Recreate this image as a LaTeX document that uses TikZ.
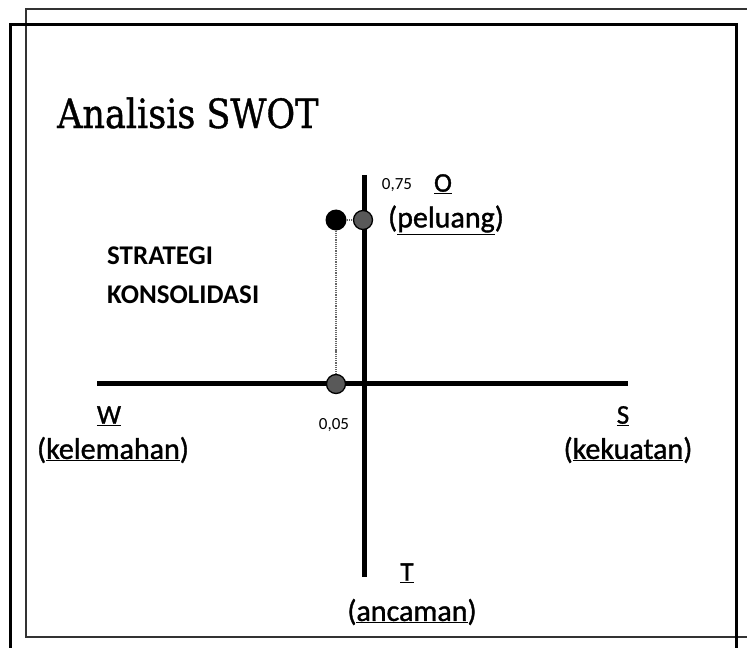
\documentclass[tikz,border=0pt]{standalone}
\usepackage{fontspec}
\setmainfont{Carlito}
\newfontfamily\heavy{Carlito}[BoldFont={Carlito}, BoldFeatures={FakeBold=1.2}]
\newfontfamily\titlefont{DejaVu Serif}[BoldFont={DejaVu Serif}, BoldFeatures={FakeBold=1.0}]
\tikzset{
  axisline/.style={line width=5bp, black},
  frameline/.style={line width=3bp, black},
  thinframe/.style={line width=1.3bp, black!80},
  guide/.style={line width=1.2bp, black!60, densely dotted},
  blackdot/.style={circle, fill=black, inner sep=0pt, minimum size=21bp},
  hatchdot/.style={circle, fill=black!65, draw=black, line width=1.3bp, inner sep=0pt, minimum size=19bp},
  lbl/.style={inner sep=0pt, font=\heavy\bfseries\fontsize{30bp}{34bp}\selectfont},
  letter/.style={inner sep=0pt, font=\heavy\bfseries\fontsize{27bp}{30bp}\selectfont},
  num/.style={inner sep=0pt, font=\heavy\fontsize{17bp}{20bp}\selectfont},
}
\begin{document}
\begin{tikzpicture}[x=1bp, y=-1bp]
\useasboundingbox (0,0) rectangle (747,648);
% frames
\draw[thinframe] (760,9) -- (26,9) -- (26,637) -- (760,637);
\draw[frameline] (10,660) -- (10,25) -- (736,25) -- (736,660);
% title
\node[inner sep=0pt, anchor=west, font=\titlefont\bfseries\fontsize{35bp}{40bp}\selectfont] (title) at (57,113) {\scalebox{1}[1.15]{Analisis SWOT}};
% axes
\coordinate (vtop) at (364,175);
\coordinate (vbot) at (364,577);
\coordinate (hl) at (97,383);
\coordinate (hr) at (628,383);
\draw[axisline] (vtop) -- (vbot);
\draw[axisline] (hl) -- (hr);
% points
\node[blackdot] (p) at (336,220) {};
\node[hatchdot] (po) at (363,220) {};
\node[hatchdot] (pw) at (336,384) {};
\draw[guide] (p) -- (po);
\draw[guide] (p) -- (pw);
% labels
\node[num] (n75) at (397,185) {0,75};
\node[letter] (O) at (443,184) {\underline{O}};
\node[lbl] (peluang) at (446,220) {(\underline{peluang})};
\node[num] (n05) at (334,425) {0,05};
\node[letter] (W) at (109,416) {\underline{W}};
\node[lbl] (kelemahan) at (113,450) {(\underline{kelemahan})};
\node[letter] (S) at (623,416) {\underline{S}};
\node[lbl] (kekuatan) at (628,450) {(\underline{kekuatan})};
\node[letter] (T) at (407,573) {\underline{T}};
\node[lbl] (ancaman) at (412,612) {(\underline{ancaman})};
\node[inner sep=0pt, anchor=west, align=left, font=\bfseries\fontsize{27bp}{39bp}\selectfont] (strat) at (107,275.5) {STRATEGI\\KONSOLIDASI};
\end{tikzpicture}
\end{document}
